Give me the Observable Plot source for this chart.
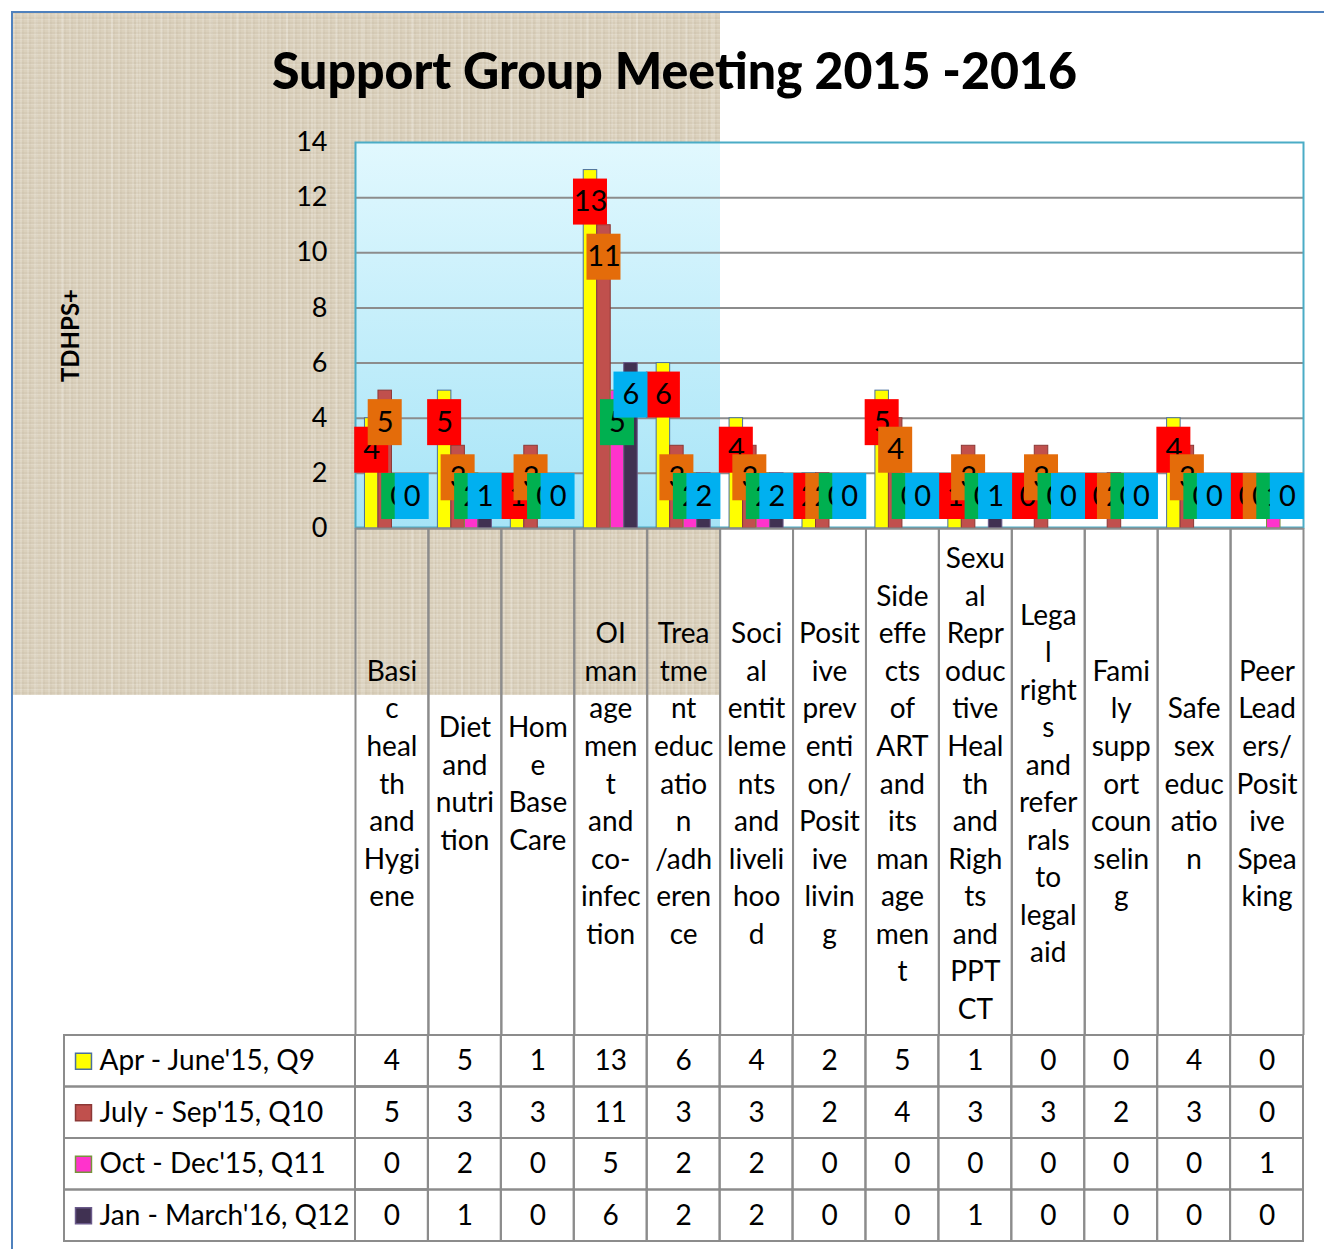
<!DOCTYPE html>
<html>
<head>
<meta charset="utf-8">
<script src="https://cdn.jsdelivr.net/npm/d3@7"></script>
<script src="https://cdn.jsdelivr.net/npm/@observablehq/plot@0.6"></script>
<style>
  html, body { margin: 0; padding: 0; background: #ffffff; }
  #wrap { position: relative; width: 1324px; height: 1249px; overflow: hidden; font-family: Lato, "Open Sans", sans-serif; background: #fff; }
  #border { position: absolute; left: 11px; top: 11px; width: 1330px; height: 1260px; border-top: 2.5px solid #4F81BD; border-left: 2.5px solid #4F81BD; box-sizing: border-box; }
  #texture { position: absolute; left: 13px; top: 13px; width: 707px; height: 682px;
    background-color: #dbd1bd;
    background-image:
      repeating-linear-gradient(90deg, rgba(255,255,255,0.13) 0px, rgba(255,255,255,0.13) 2px, rgba(120,100,70,0.04) 2px, rgba(120,100,70,0.04) 4px, rgba(0,0,0,0) 4px, rgba(0,0,0,0) 7px),
      repeating-linear-gradient(0deg, rgba(255,255,255,0.12) 0px, rgba(255,255,255,0.12) 1px, rgba(120,100,70,0.05) 1px, rgba(120,100,70,0.05) 3px, rgba(0,0,0,0) 3px, rgba(0,0,0,0) 5px),
      repeating-linear-gradient(90deg, rgba(255,255,255,0) 0px, rgba(255,255,255,0) 23px, rgba(255,255,255,0.15) 23px, rgba(255,255,255,0.15) 25px);
  }
  #plotbg { position: absolute; left: 356px; top: 143px; width: 364px; height: 385px; background: linear-gradient(#e1f8fe, #a6e4f7); }
  #title { position: absolute; top: 43px; left: 0; white-space: nowrap; font-family: Lato, sans-serif; font-weight: 900; font-size: 52px; line-height: 52px; color: #000; transform-origin: 0 0; }
  #main { position: absolute; left: 0; top: 0; }
  #table { position: absolute; left: 0; top: 1034px; }
</style>
</head>
<body>
<div id="wrap">
  <div id="border"></div>
  <div id="texture"></div>
  <div id="plotbg"></div>
  <div id="main"></div>
  <div id="table"></div>
  <div id="title">Support Group Meeting 2015 -2016</div>
</div>
<script>
// ---------- DATA ----------
const categories = [
  "Basic health and Hygiene",
  "Diet and nutrition",
  "Home Base Care",
  "OI management and co-infection",
  "Treatment education /adherence",
  "Social entitlements and livelihood",
  "Positive prevention/ Positive living",
  "Side effects of ART and its management",
  "Sexual Reproductive Health and Rights and PPTCT",
  "Legal rights and referrals to legal aid",
  "Family support counselling",
  "Safe sex education",
  "Peer Leaders/ Positive Speaking"
];
// tick labels as wrapped in the narrow columns of the chart
const categoryTickLabels = [
  "Basi\nc\nheal\nth\nand\nHygi\nene",
  "Diet\nand\nnutri\ntion",
  "Hom\ne\nBase\nCare",
  "OI\nman\nage\nmen\nt\nand\nco-\ninfec\ntion",
  "Trea\ntme\nnt\neduc\natio\nn\n/adh\neren\nce",
  "Soci\nal\nentit\nleme\nnts\nand\nliveli\nhoo\nd",
  "Posit\nive\nprev\nenti\non/\nPosit\nive\nlivin\ng",
  "Side\neffe\ncts\nof\nART\nand\nits\nman\nage\nmen\nt",
  "Sexu\nal\nRepr\noduc\ntive\nHeal\nth\nand\nRigh\nts\nand\nPPT\nCT",
  "Lega\nl\nright\ns\nand\nrefer\nrals\nto\nlegal\naid",
  "Fami\nly\nsupp\nort\ncoun\nselin\ng",
  "Safe\nsex\neduc\natio\nn",
  "Peer\nLead\ners/\nPosit\nive\nSpea\nking"
];
const seriesNames = ["Apr - June'15, Q9", "July - Sep'15, Q10", "Oct - Dec'15, Q11", "Jan - March'16, Q12"];
const q9  = [4, 5, 1, 13, 6, 4, 2, 5, 1, 0, 0, 4, 0];
const q10 = [5, 3, 3, 11, 3, 3, 2, 4, 3, 3, 2, 3, 0];
const q11 = [0, 2, 0, 5, 2, 2, 0, 0, 0, 0, 0, 0, 1];
const q12 = [0, 1, 0, 6, 2, 2, 0, 0, 1, 0, 0, 0, 0];
const yTicks = [0, 2, 4, 6, 8, 10, 12, 14];
const yLabel = "TDHPS+";

// ---------- STYLE ----------
const barFill   = ["#FFFF00", "#C0504D", "#FF33CC", "#403152"];
const barStroke = ["#4A6F9E", "#8C3836", "#77933C", "#6A5A8A"];
const labelFill = ["#FF0000", "#E46C0A", "#00B050", "#00B0F0"];
const gridColor = "#8c8c8c";

const W = 1324, mL = 355, mR = 21, mT = 142, frameBottom = 528, mainH = 1035;
const bw = (W - mL - mR) / categories.length;      // band width in px
const barW = 13.5;
const groupPad = (bw - barW * 4) / 2;
const pxPerUnit = (frameBottom - mT) / 14;
const boxW = 34, boxH = 46, boxDrop = 32;

const seriesValues = [q9, q10, q11, q12];
const rows = [];
seriesValues.forEach((vals, i) => vals.forEach((v, j) => rows.push({series: seriesNames[i], si: i, category: categories[j], value: v})));
const tickMap = new Map(categories.map((c, i) => [c, categoryTickLabels[i]]));

const marks = [
  Plot.ruleY(yTicks.filter(t => t < 14), {stroke: gridColor, strokeWidth: 2}),
  Plot.frame({stroke: "#4BACC6", strokeWidth: 2, insetBottom: 1})
];
// bars
seriesValues.forEach((vals, i) => {
  const data = rows.filter(r => r.si === i && r.value > 0);
  const left = groupPad + i * barW;
  marks.push(Plot.barY(data, {x: "category", y: "value", fill: barFill[i], stroke: barStroke[i], strokeWidth: 1,
    insetLeft: left, insetRight: bw - barW - left}));
});
marks.push(Plot.ruleY([0], {stroke: gridColor, strokeWidth: 2}));
// data label boxes + text
const minTop = (2 * boxDrop) / pxPerUnit;
seriesValues.forEach((vals, i) => {
  const data = rows.filter(r => r.si === i);
  const left = groupPad + i * barW;
  const center = d => Math.max(d.value, minTop) - boxDrop / pxPerUnit;
  marks.push(Plot.barY(data, {x: "category",
    y1: d => center(d) - (boxH / 2) / pxPerUnit,
    y2: d => center(d) + (boxH / 2) / pxPerUnit,
    fill: labelFill[i],
    insetLeft: left - (boxW - barW) / 2, insetRight: bw - barW - left - (boxW - barW) / 2}));
  marks.push(Plot.text(data, {x: "category", y: center, text: d => String(d.value),
    dx: left + barW / 2 - bw / 2, fontSize: 29, fill: "#000", lineAnchor: "middle"}));
});
// axes
marks.push(Plot.axisY({ticks: yTicks, tickSize: 0, tickPadding: 28, fontSize: 27, label: null}));
marks.push(Plot.text([yLabel], {text: d => d, frameAnchor: "left", textAnchor: "middle", lineAnchor: "middle", dx: -284, rotate: -90, fontSize: 24, fontWeight: "bold"}));
marks.push(Plot.axisX({tickSize: 507, tickFormat: () => "", dx: bw / 2, stroke: gridColor, strokeWidth: 2, label: null}));
marks.push(Plot.axisX({tickSize: 507, tickFormat: () => "", dx: -bw / 2, stroke: gridColor, strokeWidth: 2, label: null}));
marks.push(Plot.axisX({tickSize: 0, tickPadding: 253, tickFormat: d => tickMap.get(d), lineAnchor: "middle", lineHeight: 1.34, fontSize: 28, label: null}));

const main = Plot.plot({
  width: W, height: mainH,
  marginLeft: mL, marginRight: mR, marginTop: mT, marginBottom: mainH - frameBottom,
  x: {domain: categories, padding: 0, round: false, axis: null},
  y: {domain: [0, 14], axis: null},
  style: {fontFamily: "Lato, 'Open Sans', sans-serif", background: "transparent", overflow: "visible", color: "#000"},
  marks
});
document.getElementById("main").appendChild(main);

// ---------- TABLE ----------
const tableMarks = [
  Plot.cell(seriesNames, {x: () => categories[0], y: d => d, insetLeft: -(mL - 64), fill: "none", stroke: gridColor, strokeWidth: 2}),
  Plot.cell(rows, {x: "category", y: "series", fill: "none", stroke: gridColor, strokeWidth: 2}),
  Plot.text(rows, {x: "category", y: "series", text: d => String(d.value), fontSize: 28, fill: "#000"}),
  Plot.axisY({tickSize: 0, tickPadding: mL - 99, textAnchor: "start", fontSize: 28, label: null})
];
seriesNames.forEach((s, i) => {
  tableMarks.push(Plot.dot([s], {y: d => d, frameAnchor: "left", dx: -(mL - 83), symbol: "square", r: 9, fill: barFill[i], stroke: barStroke[i], strokeWidth: 1.5}));
});
const table = Plot.plot({
  width: W, height: 215,
  marginLeft: mL, marginRight: mR, marginTop: 1, marginBottom: 8,
  x: {domain: categories, padding: 0, round: false, axis: null},
  y: {domain: seriesNames, padding: 0, round: false, axis: null},
  style: {fontFamily: "Lato, 'Open Sans', sans-serif", background: "transparent", overflow: "visible", color: "#000"},
  marks: tableMarks
});
document.getElementById("table").appendChild(table);

// ---------- TITLE fit ----------
const t = document.getElementById("title");
const tw = t.getBoundingClientRect().width;
const target = 805;
const sx = target / tw;
t.style.transform = `scaleX(${sx})`;
t.style.left = (674.5 - target / 2) + "px";
</script>
</body>
</html>
